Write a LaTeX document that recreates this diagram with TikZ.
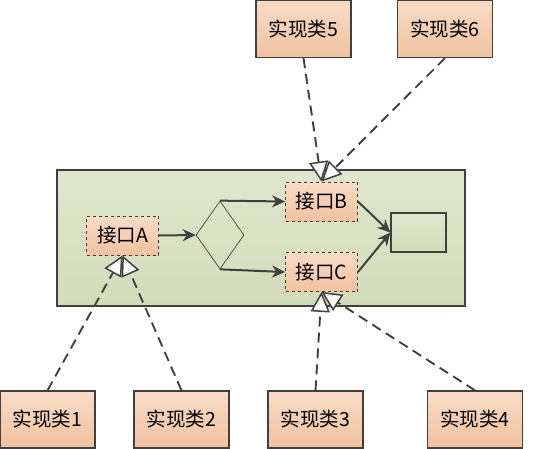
\documentclass[tikz,border=0pt]{standalone}
\usepackage{fontspec}
\setmainfont{Noto Sans CJK SC}
\usetikzlibrary{arrows.meta,positioning,shapes.geometric}

\definecolor{line}{HTML}{404040}
\definecolor{boxtop}{HTML}{F8DBC6}
\definecolor{boxbot}{HTML}{F1C29F}
\definecolor{paneltop}{HTML}{DFE6CD}
\definecolor{panelbot}{HTML}{D2DCB8}

\tikzset{
  cls/.style={rectangle,draw=line,line width=1.2pt,top color=boxtop,bottom color=boxbot,
    minimum width=95pt,minimum height=57pt,inner sep=0pt},
  intf/.style={rectangle,draw=line,dashed,line width=0.9pt,top color=boxtop,bottom color=boxbot,
    minimum width=72pt,minimum height=39pt,inner sep=0pt},
  real/.style={draw=line,line width=1.9pt,dash pattern=on 10pt off 6pt,
    -{Triangle[open,fill=white,length=20pt,width=19pt,line width=1.5pt]}},
  flow/.style={draw=line,line width=2pt,-{Stealth[length=13pt,width=12pt]}}
}

\begin{document}
\begin{tikzpicture}[x=1pt,y=-1pt,font=\fontsize{19.5}{22}\selectfont]
    \useasboundingbox (0,0) rectangle (540,449);
    \node[rectangle,draw=line,line width=1.2pt,top color=paneltop,bottom color=panelbot,
      minimum width=408pt,minimum height=136pt](panel) at (261,238){};
    % interfaces inside the panel
    \node[intf](ifA) at (122.5,235.5){接口A};
    \node[diamond,draw=line,line width=0.7pt,minimum width=48pt,minimum height=68pt,
      inner sep=0pt](gate) at (220,235){};
    \node[intf](ifB) at (321.5,201.5){接口B};
    \node[intf](ifC) at (321.5,272){接口C};
    \node[rectangle,draw=line,line width=1.2pt,top color=paneltop,bottom color=panelbot,
      minimum width=55pt,minimum height=39pt](sink) at (418.5,232.5){};
    \path[flow](ifA.east) -- (gate.west);
    \path[flow](gate.north) -- (ifB.west);
    \path[flow](gate.south) -- (ifC.west);
    \path[flow](ifB.east) -- (sink.west);
    \path[flow](ifC.east) -- (sink.west);
    % implementing classes
    \node[cls](impl5) at (303.5,29){实现类5};
    \node[cls](impl6) at (445,29){实现类6};
    \node[cls](impl1) at (47.5,419.5){实现类1};
    \node[cls](impl2) at (181.5,419.5){实现类2};
    \node[cls](impl3) at (315.5,419.5){实现类3};
    \node[cls](impl4) at (475,419.5){实现类4};
    \path[real](impl5.south) -- (ifB.north);
    \path[real](impl6.south) -- (ifB.north);
    \path[real](impl1.north) -- (ifA.south);
    \path[real](impl2.north) -- (ifA.south);
    \path[real](impl3.north) -- (ifC.south);
    \path[real](impl4.north) -- (ifC.south);
\end{tikzpicture}
\end{document}
